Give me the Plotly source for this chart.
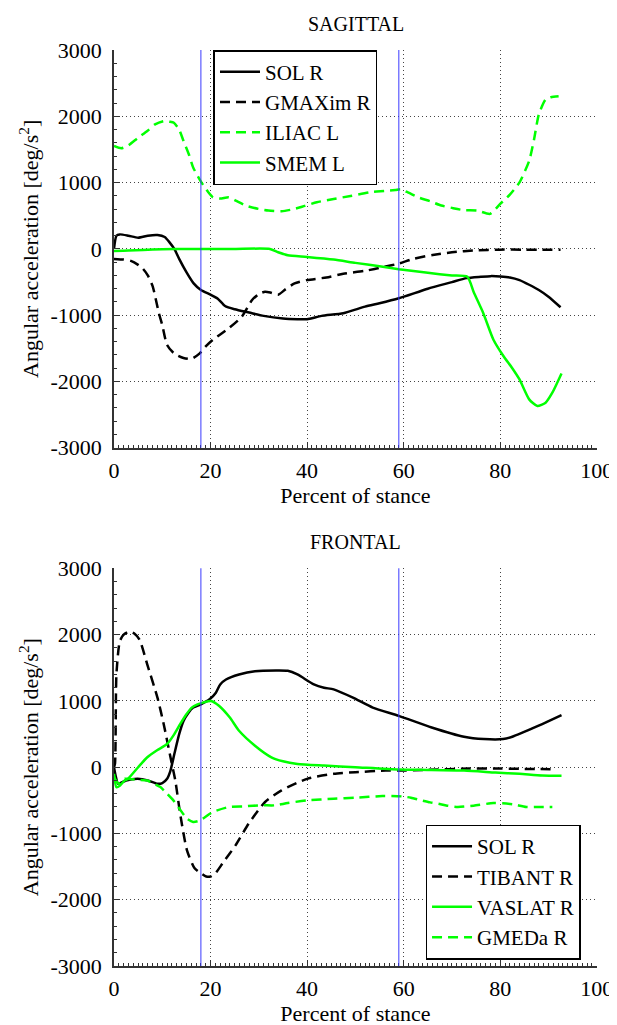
import plotly.graph_objects as go

# ---------------- data ----------------
stance_events = [18, 59]
x_ticks = [0, 20, 40, 60, 80, 100]
y_ticks = [-3000, -2000, -1000, 0, 1000, 2000, 3000]
y_tick_labels = ["-3000", "-2000", "-1000", "0", "1000", "2000", "3000"]

# SAGITTAL
sag_sol_x = [0, 0.5, 1.2, 3, 5, 7, 9, 10.5, 11.5, 12.5, 13.5, 15, 16.5, 18, 20, 21.5, 23, 25, 28, 31, 35, 38, 40, 43, 47.5, 52, 55, 59, 65, 70, 73, 76, 78, 80, 82, 84, 86, 88, 90, 92.5]
sag_sol_y = [0, 200, 220, 200, 170, 200, 210, 180, 100, 0, -150, -350, -520, -620, -690, -750, -860, -910, -960, -1010, -1050, -1060, -1060, -1010, -970, -870, -820, -745, -600, -500, -440, -420, -410, -415, -430, -470, -540, -620, -720, -880]

sag_gmax_x = [0, 2, 3.5, 5, 6, 7, 8, 9.3, 10, 11, 12.5, 14.4, 16, 17.7, 19, 20.5, 22, 23.8, 26.5, 28.6, 30, 31.3, 32.5, 34, 35.5, 37.4, 40, 44, 47.5, 52, 56, 59, 62, 66, 70, 75, 80, 85, 92.5]
sag_gmax_y = [-150, -160, -180, -240, -300, -400, -560, -970, -1150, -1450, -1580, -1645, -1660, -1580, -1470, -1370, -1290, -1195, -1020, -770, -680, -645, -660, -690, -610, -520, -470, -430, -375, -330, -270, -220, -150, -90, -50, -20, -10, -10, -10]

sag_iliac_x = [0, 1.5, 2.9, 5, 6.9, 8.5, 10.3, 11.5, 12.4, 13.5, 14.4, 15.5, 16.4, 18.1, 19.5, 20.5, 22, 23.8, 25.2, 27.5, 29.9, 32, 34.7, 37.2, 39.5, 42, 45.5, 49, 52.9, 56, 58.3, 59.4, 61, 63, 65.5, 67.8, 70, 72.5, 75.2, 77.9, 80, 82, 84, 86, 87, 88, 89.4, 90.5, 92.1]
sag_iliac_y = [1555, 1520, 1560, 1680, 1780, 1880, 1930, 1920, 1905, 1800, 1630, 1430, 1230, 1005, 860, 780, 760, 780, 730, 650, 605, 580, 570, 600, 650, 705, 755, 800, 855, 875, 890, 900, 850, 780, 720, 655, 620, 585, 580, 530, 680, 820, 1005, 1330, 1650, 2030, 2255, 2290, 2305]

sag_smem_x = [0, 3, 6, 10, 15, 20, 25, 32.3, 34, 36, 40, 45.5, 50, 55, 59, 65, 70, 73.2, 74.5, 76.5, 78.6, 80.7, 82.5, 84, 86, 87.7, 89.4, 90.8, 92.7]
sag_smem_y = [-30, -25, -15, -5, 0, 0, 0, 0, -50, -95, -120, -160, -210, -260, -305, -360, -400, -420, -650, -970, -1370, -1620, -1800, -1970, -2270, -2370, -2320, -2170, -1880]

# FRONTAL
fro_sol_x = [0, 0.4, 0.85, 2.5, 4.9, 7, 9, 10, 11, 11.7, 12.5, 13.5, 14.4, 15.4, 16.4, 18, 19.8, 21.1, 22, 23.2, 25.9, 29.2, 34, 36, 38, 41.4, 43.5, 45.5, 49.5, 53.6, 59, 65.8, 72.5, 76.6, 80.6, 82.5, 84.7, 88.7, 92.7]
fro_sol_y = [0, -150, -250, -200, -175, -200, -250, -240, -175, -50, 200, 500, 700, 820, 900, 950, 1025, 1125, 1250, 1325, 1400, 1450, 1460, 1455, 1400, 1250, 1200, 1175, 1050, 900, 775, 600, 460, 425, 425, 460, 525, 650, 785]

fro_tib_x = [0, 0.2, 0.5, 1.2, 2, 3.2, 4.2, 5.3, 6.9, 9, 10.3, 11.7, 12.7, 13.7, 15.1, 16.7, 18, 19.1, 20, 21, 22.5, 25.2, 27.9, 31.3, 34.7, 40, 45.5, 50, 56.3, 59, 65, 73.5, 80, 85, 91.4]
fro_tib_y = [0, 50, 1400, 1900, 2000, 2050, 2020, 1925, 1550, 1050, 650, 150, -200, -700, -1250, -1525, -1600, -1650, -1650, -1600, -1450, -1175, -850, -525, -350, -175, -100, -75, -50, -50, -40, -20, -20, -25, -30]

fro_vas_x = [0, 0.5, 1.2, 2.2, 2.9, 5, 6.9, 9, 11, 12.5, 13.7, 15, 16.1, 17.3, 18.4, 20.1, 21.8, 24, 25.9, 29.2, 32.6, 35, 38, 43.5, 50, 59, 65, 72.5, 79, 84, 88.7, 92.7]
fro_vas_y = [-100, -300, -280, -200, -175, 0, 150, 260, 350, 500, 650, 800, 900, 950, 975, 1000, 925, 750, 550, 325, 150, 90, 50, 25, 0, -35, -40, -50, -80, -100, -125, -130]

fro_gmed_x = [0, 1, 2.2, 5, 6.9, 8, 9.6, 11, 12.3, 13.7, 15.1, 16.4, 17.5, 18.4, 20.5, 23.8, 27, 30.6, 33.3, 36, 40, 45.5, 50, 55.6, 59.6, 61.5, 63.7, 65.5, 67.1, 69, 71.2, 74.5, 78.6, 80.5, 82.7, 85.4, 88, 90.8]
fro_gmed_y = [-150, -250, -175, -190, -200, -240, -300, -400, -500, -640, -775, -825, -810, -775, -675, -600, -590, -575, -575, -540, -500, -475, -460, -435, -440, -460, -500, -530, -550, -580, -600, -580, -540, -545, -560, -600, -600, -600]

# ---------------- figure ----------------
FONT = "Liberation Serif"
BLACK = "#000000"
GREEN = "#00ff00"
DASH = "10px,6px"
LW = 2.5

fig = go.Figure()

def add(x, y, name, color, dash, xa, ya, legend):
    fig.add_trace(go.Scatter(
        x=x, y=y, name=name, mode="lines",
        line=dict(color=color, width=LW, dash=dash, shape="spline", smoothing=0.6),
        xaxis=xa, yaxis=ya, legend=legend))

add(sag_sol_x, sag_sol_y, "SOL R", BLACK, "solid", "x", "y", "legend")
add(sag_gmax_x, sag_gmax_y, "GMAXim R", BLACK, DASH, "x", "y", "legend")
add(sag_iliac_x, sag_iliac_y, "ILIAC L", GREEN, DASH, "x", "y", "legend")
add(sag_smem_x, sag_smem_y, "SMEM L", GREEN, "solid", "x", "y", "legend")

add(fro_sol_x, fro_sol_y, "SOL R", BLACK, "solid", "x2", "y2", "legend2")
add(fro_tib_x, fro_tib_y, "TIBANT R", BLACK, DASH, "x2", "y2", "legend2")
add(fro_vas_x, fro_vas_y, "VASLAT R", GREEN, "solid", "x2", "y2", "legend2")
add(fro_gmed_x, fro_gmed_y, "GMEDa R", GREEN, DASH, "x2", "y2", "legend2")

for xr, yr in (("x", "y"), ("x2", "y2")):
    for v in stance_events:
        fig.add_shape(type="line", xref=xr, yref=f"{yr} domain", x0=v, x1=v, y0=0, y1=1,
                      line=dict(color="#3a3aff", width=1), layer="above")

tickfont = dict(family=FONT, size=22, color=BLACK)
titlefont = dict(family=FONT, size=22, color=BLACK)
GRID = dict(showgrid=True, gridcolor="#444", griddash="1px,3px", gridwidth=1)

def xaxis(domain_anchor):
    return dict(
        domain=[0, 1], anchor=domain_anchor, range=[0, 100.05],
        tickvals=x_ticks, ticks="inside", ticklen=6, tickcolor="#333", tickwidth=1,
        showline=True, linecolor="#333", linewidth=1.5,
        minor=dict(ticks="inside", ticklen=3, dtick=1, tickcolor="#333", showgrid=False),
        zeroline=False, tickfont=tickfont, ticklabelstandoff=2,
        title=dict(text="Percent of stance", font=titlefont, standoff=4),
        **GRID,
    )

def yaxis(domain, anchor):
    return dict(
        domain=domain, anchor=anchor, range=[-3000, 3003],
        tickvals=y_ticks, ticktext=y_tick_labels,
        ticks="inside", ticklen=6, tickcolor="#333", tickwidth=1,
        showline=True, linecolor="#333", linewidth=1.5,
        minor=dict(ticks="inside", ticklen=3, dtick=200, tickcolor="#333", showgrid=False),
        zeroline=False, tickfont=tickfont, ticklabelstandoff=6,
        title=dict(text="Angular acceleration [deg/s<sup>2</sup>]", font=titlefont, standoff=6),
        **GRID,
    )

legend_style = dict(
    font=dict(family=FONT, size=21, color=BLACK),
    bgcolor="white", bordercolor=BLACK, borderwidth=1.5,
    tracegroupgap=0, itemwidth=40,
)

fig.update_layout(
    width=617, height=1025,
    margin=dict(l=106, r=18, t=42, b=62, pad=0),
    paper_bgcolor="white", plot_bgcolor="white",
    font=dict(family=FONT, size=20, color=BLACK),
    xaxis=xaxis("y"),
    yaxis=yaxis([0.5658, 1.0], "x"),
    xaxis2=xaxis("y2"),
    yaxis2=yaxis([0.0, 0.4342], "x2"),
    legend=dict(x=0.206, y=1.0, xanchor="left", yanchor="top", **legend_style),
    legend2=dict(x=0.645, y=0.007, xanchor="left", yanchor="bottom", **legend_style),
    annotations=[
        dict(text="SAGITTAL", x=0.5, y=1.0, xref="paper", yref="paper",
             xanchor="center", yanchor="bottom", yshift=13, showarrow=False,
             font=dict(family=FONT, size=20, color=BLACK)),
        dict(text="FRONTAL", x=0.5, y=0.4342, xref="paper", yref="paper",
             xanchor="center", yanchor="bottom", yshift=13, showarrow=False,
             font=dict(family=FONT, size=20, color=BLACK)),
    ],
    showlegend=True,
)

fig.write_html("out.html")
